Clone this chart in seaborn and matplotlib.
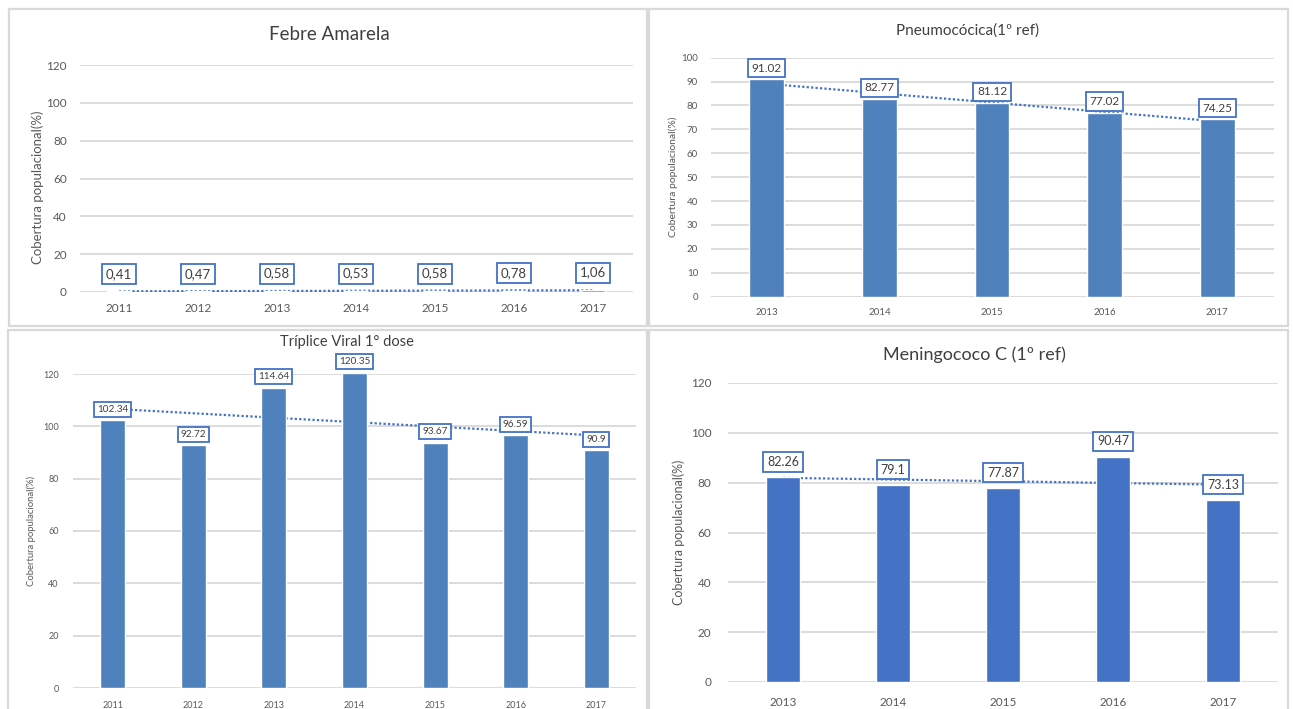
import numpy as np
import pandas as pd
import matplotlib
matplotlib.use("Agg")
import matplotlib.pyplot as plt
from matplotlib.patches import Rectangle
import seaborn as sns

# Vaccination coverage by year (%)
febre_years = ["2011", "2012", "2013", "2014", "2015", "2016", "2017"]
febre_values = [0.41, 0.47, 0.58, 0.53, 0.58, 0.78, 1.06]

pneumo_years = ["2013", "2014", "2015", "2016", "2017"]
pneumo_values = [91.02, 82.77, 81.12, 77.02, 74.25]

triplice_years = ["2011", "2012", "2013", "2014", "2015", "2016", "2017"]
triplice_values = [102.34, 92.72, 114.64, 120.35, 93.67, 96.59, 90.9]

mening_years = ["2013", "2014", "2015", "2016", "2017"]
mening_values = [82.26, 79.1, 77.87, 90.47, 73.13]

titles = ["Febre Amarela", "Pneumocócica(1º ref)", "Tríplice Viral 1° dose", "Meningococo C (1º ref)"]
ylabel = "Cobertura populacional(%)"

sns.set_theme(style="white")
plt.rcParams["font.family"] = ["Lato", "DejaVu Sans"]

W, H = 1293, 709
fig = plt.figure(figsize=(W / 100, H / 100), dpi=100)
fig.patch.set_facecolor("white")

GRID = "#d9d9d9"
TXT = "#595959"
TITLE = "#404040"
BOX = "#4472C4"


def px_axes(x0, x1, ytop, ybot):
    return fig.add_axes([x0 / W, 1 - ybot / H, (x1 - x0) / W, (ybot - ytop) / H])


def panel_frame(x0, y0, x1, y1):
    fig.add_artist(Rectangle((x0 / W, 1 - y1 / H), (x1 - x0) / W, (y1 - y0) / H,
                             transform=fig.transFigure, fill=False,
                             edgecolor=GRID, lw=1.6, zorder=0))


def panel_title(text, x, y, size):
    fig.text(x / W, 1 - y / H, text, ha="center", va="center",
             fontsize=size, color=TITLE)


def draw_panel(ax, years, values, color, ymax, ystep, labels, tick_fs, lab_fs,
               ylab_fs, label_off, ylab_pad):
    df = pd.DataFrame({"ano": years, "cobertura": values})
    sns.barplot(data=df, x="ano", y="cobertura", order=years, color=color,
                saturation=1, width=0.31, ax=ax, zorder=2)
    # linear trend over the categories
    xs = np.arange(len(values))
    k, b = np.polyfit(xs, values, 1)
    ax.plot(xs, k * xs + b, ls=(0, (1, 1)), color=BOX, lw=1.6, zorder=1.5)
    ax.set_xlim(-0.5, len(values) - 0.5)
    ax.set_ylim(0, ymax)
    ax.set_yticks(np.arange(0, ymax + 0.01, ystep))
    ax.yaxis.grid(True, color=GRID, lw=1.3)
    ax.set_axisbelow(True)
    for s in ax.spines.values():
        s.set_visible(False)
    ax.tick_params(axis="both", length=0, labelsize=tick_fs, labelcolor=TXT)
    ax.tick_params(axis="y", pad=ylab_pad)
    ax.tick_params(axis="x", pad=ylab_pad * 0.9)
    ax.set_xlabel("")
    ax.set_ylabel(ylabel, fontsize=ylab_fs, color=TXT)
    for i, (v, t) in enumerate(zip(values, labels)):
        ax.annotate(t, (i, v), xytext=(0, label_off), textcoords="offset points",
                    ha="center", va="center", fontsize=lab_fs, color=TITLE,
                    zorder=5, annotation_clip=False,
                    bbox=dict(boxstyle="square,pad=0.3", fc="white", ec=BOX, lw=1.3))


# panel frames
panel_frame(9, 9, 647, 326)
panel_frame(649, 9, 1288, 326)
panel_frame(8, 330, 647, 715)
panel_frame(649, 330, 1288, 715)

# Febre Amarela
ax1 = px_axes(79.5, 632.5, 65, 292)
draw_panel(ax1, febre_years, febre_values, "#4F81BD", 120, 20,
           [f"{v:.2f}".replace(".", ",") for v in febre_values],
           tick_fs=8.5, lab_fs=9.5, ylab_fs=9.5, label_off=12.5, ylab_pad=9)
panel_title(titles[0], 329, 35, 13.5)
ax1.yaxis.set_label_coords(-0.064, 0.46)

# Pneumocócica
ax2 = px_axes(710.5, 1273.5, 57.7, 296.7)
draw_panel(ax2, pneumo_years, pneumo_values, "#4F81BD", 100, 10,
           [f"{v:.2f}" for v in pneumo_values],
           tick_fs=7, lab_fs=8.5, ylab_fs=7.5, label_off=8, ylab_pad=9)
panel_title(titles[1], 968, 31, 11)
ax2.yaxis.set_label_coords(-0.058, 0.5)

# Tríplice Viral
ax3 = px_axes(72.5, 636.5, 374, 688)
draw_panel(ax3, triplice_years, triplice_values, "#4F81BD", 120, 20,
           [f"{v:g}" for v in triplice_values],
           tick_fs=6.5, lab_fs=7.2, ylab_fs=6.8, label_off=8, ylab_pad=10)
panel_title(titles[2], 347, 342, 10.5)
ax3.yaxis.set_label_coords(-0.064, 0.5)

# Meningococo C
ax4 = px_axes(728, 1278, 383, 682)
draw_panel(ax4, mening_years, mening_values, "#4472C4", 120, 20,
           [f"{v:g}" for v in mening_values],
           tick_fs=8.5, lab_fs=9, ylab_fs=9, label_off=11, ylab_pad=12)
panel_title(titles[3], 974, 355, 13)
ax4.yaxis.set_label_coords(-0.078, 0.5)

fig.savefig("out.png", dpi=100, facecolor="white")
